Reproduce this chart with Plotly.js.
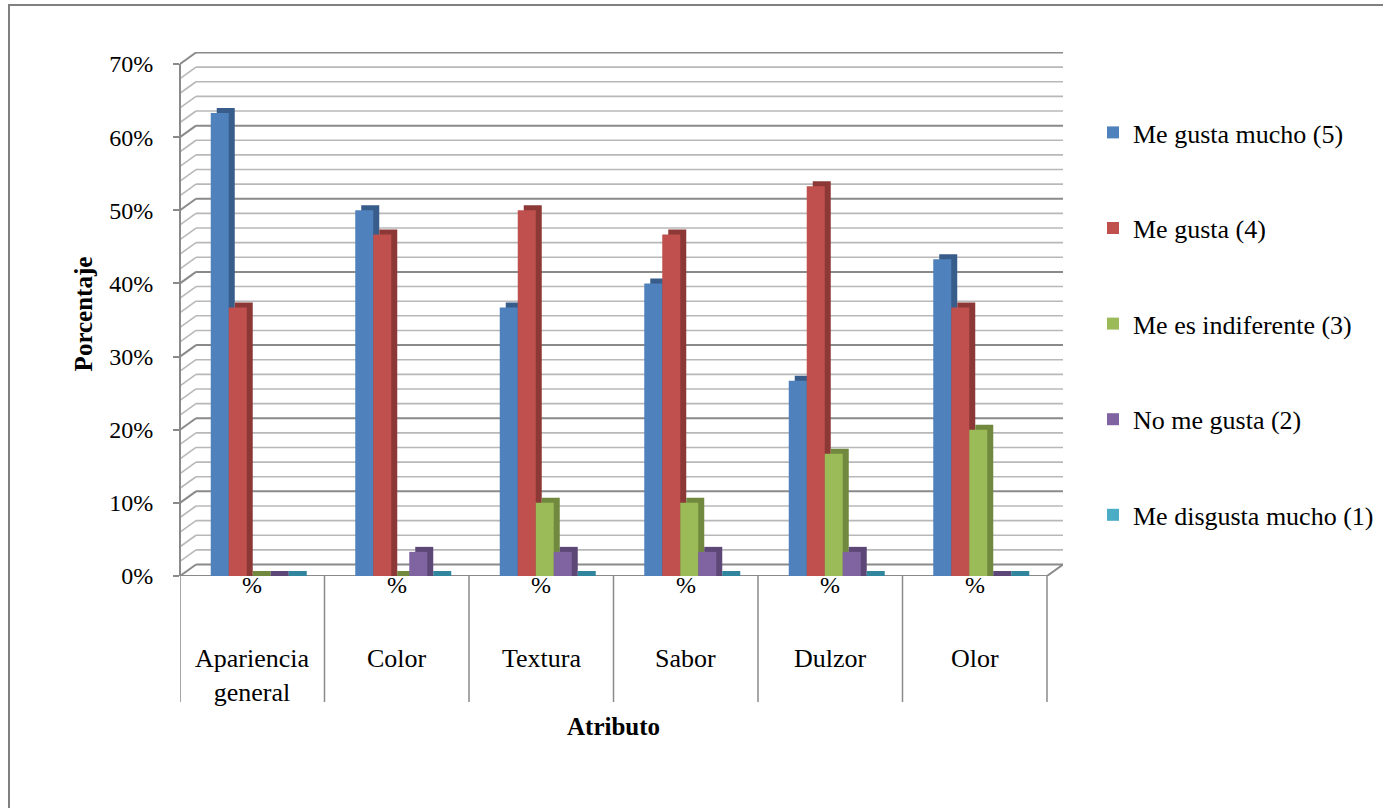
<!DOCTYPE html>
<html>
<head>
<meta charset="utf-8">
<script src="https://cdn.plot.ly/plotly-3.0.1.min.js"></script>
<style>
  html, body { margin: 0; padding: 0; background: #fff; }
  #wrap { position: relative; width: 1383px; height: 808px; overflow: hidden; }
  #chart { position: absolute; left: 0; top: 0; width: 1383px; height: 808px; }
  #frame { position: absolute; left: 8px; top: 4px; width: 1400px; height: 820px;
           border-left: 2px solid #808080; border-top: 2px solid #808080; pointer-events: none; }
</style>
</head>
<body>
<div id="wrap">
  <div id="chart"></div>
  <div id="frame"></div>
</div>
<script>
// ---- data ----
const categories = ["Apariencia general", "Color", "Textura", "Sabor", "Dulzor", "Olor"];
const categoryLabels = ["Apariencia<br>general", "Color", "Textura", "Sabor", "Dulzor", "Olor"];
const subLabel = "%";
const seriesNames = ["Me gusta mucho (5)", "Me gusta (4)", "Me es indiferente (3)", "No me gusta (2)", "Me disgusta mucho (1)"];
const meGustaMucho   = [63.3, 50.0, 36.7, 40.0, 26.7, 43.3];
const meGusta        = [36.7, 46.7, 50.0, 46.7, 53.3, 36.7];
const meEsIndif      = [0, 0, 10.0, 10.0, 16.7, 20.0];
const noMeGusta      = [0, 3.3, 3.3, 3.3, 3.3, 0];
const meDisgustaMucho= [0, 0, 0, 0, 0, 0];
const yTicks = [0, 10, 20, 30, 40, 50, 60, 70];
const yTickLabels = ["0%", "10%", "20%", "30%", "40%", "50%", "60%", "70%"];
const yTitle = "Porcentaje";
const xTitle = "Atributo";

// ---- style ----
const seriesValues = [meGustaMucho, meGusta, meEsIndif, noMeGusta, meDisgustaMucho];
const faceColors = ["#4F81BD", "#C0504D", "#9BBB59", "#8064A2", "#4BACC6"];
const sideColors = ["#385D8A", "#8C3836", "#71893F", "#5C4776", "#31859C"];
const FONT = "'Liberation Serif', 'DejaVu Serif', serif";

const W = 1383, H = 808;
const mL = 180, mR = 320, mT = 52, mB = 232;
const plotW = W - mL - mR, plotH = H - mT - mB;
const depthPx = 16, depthPy = 11.5;           // back wall offset
const nCat = categories.length;
const catPx = (plotW - depthPx) / nCat;
const xRange = [-0.5, nCat - 0.5 + depthPx / catPx];
const yTop = 70 * plotH / 512;                 // 0..70 spans 512 px
const pxPerUnit = plotH / yTop;

const barW = 18 / catPx;
const groupStart = -41.5 / catPx;
const barDx = 6 / catPx, barDy = 5 / pxPerUnit;

const traces = [];
seriesValues.forEach((vals, i) => {
  traces.push({
    type: "bar", x: categories, y: vals.map(v => v + barDy), base: 0,
    offset: groupStart + i * barW + barDx, width: barW,
    marker: { color: sideColors[i], line: { width: 0 } },
    showlegend: false, hoverinfo: "skip", legendgroup: "g" + i
  });
  traces.push({
    type: "bar", x: categories, y: vals, name: seriesNames[i],
    offset: groupStart + i * barW, width: barW,
    marker: { color: faceColors[i], line: { width: 0 } },
    legendgroup: "g" + i
  });
});

const shapes = [];
const wallX = depthPx / plotW;
for (let k = 0; k <= 35; k++) {
  const v = k * 2;
  const major = v % 10 === 0;
  const col = major ? "#8a8a8a" : "#b8b8b8";
  const lw = major ? 2 : 1.6;
  shapes.push({ type: "line", layer: "below", xref: "paper", x0: wallX, x1: 1,
    yref: "y", ysizemode: "pixel", yanchor: v, y0: depthPy, y1: depthPy,
    line: { color: col, width: lw } });
  shapes.push({ type: "line", layer: "below", xref: "paper", x0: 0, x1: wallX,
    yref: "y", ysizemode: "pixel", yanchor: v, y0: 0, y1: depthPy,
    line: { color: col, width: lw } });
}
// front floor edge
shapes.push({ type: "line", layer: "below", xref: "x", x0: -0.5, x1: nCat - 0.5,
  yref: "y", y0: 0, y1: 0, line: { color: "#8a8a8a", width: 2 } });
shapes.push({ type: "line", layer: "below", xref: "x", xsizemode: "pixel", xanchor: nCat - 0.5, x0: 0, x1: depthPx,
  yref: "y", ysizemode: "pixel", yanchor: 0, y0: 0, y1: depthPy, line: { color: "#8a8a8a", width: 2 } });
// vertical axis line
shapes.push({ type: "line", layer: "below", xref: "paper", x0: 0, x1: 0,
  yref: "y", y0: 0, y1: 70, line: { color: "#8a8a8a", width: 2 } });
// category dividers
for (let i = 0; i <= nCat; i++) {
  shapes.push({ type: "line", xref: "x", x0: i - 0.5, x1: i - 0.5,
    yref: "paper", y0: 0, y1: -(702 - (H - mB)) / plotH, line: { color: "#8a8a8a", width: 1.5 } });
}

const annotations = [];
categories.forEach((c, i) => {
  annotations.push({ xref: "x", x: c, yref: "paper", y: -(585 - (H - mB)) / plotH, yanchor: "middle",
    text: subLabel, showarrow: false, font: { family: FONT, size: 24, color: "#000" } });
  annotations.push({ xref: "x", x: c, yref: "paper", y: -(642 - (H - mB)) / plotH, yanchor: "top",
    text: categoryLabels[i], showarrow: false, font: { family: FONT, size: 26, color: "#000" } });
});
annotations.push({ xref: "paper", x: (613.5 - mL) / plotW, yref: "paper", y: -(726 - (H - mB)) / plotH,
  yanchor: "middle", text: xTitle, showarrow: false,
  font: { family: FONT, size: 25, color: "#000", weight: "bold" } });

const layout = {
  width: W, height: H,
  margin: { l: mL, r: mR, t: mT, b: mB, pad: 0, autoexpand: false },
  paper_bgcolor: "rgba(0,0,0,0)", plot_bgcolor: "rgba(0,0,0,0)",
  barmode: "overlay",
  showlegend: true,
  font: { family: FONT, color: "#000" },
  xaxis: { type: "category", range: xRange, showticklabels: false, showgrid: false,
    zeroline: false, showline: false, ticks: "", fixedrange: true },
  yaxis: { range: [0, yTop], tickvals: yTicks, ticktext: yTickLabels, ticks: "outside",
    ticklen: 6, tickwidth: 2, tickcolor: "#8a8a8a", showgrid: false, zeroline: false, showline: false,
    ticklabelstandoff: 15,
    tickfont: { family: FONT, size: 24, color: "#000" },
    title: { text: yTitle, standoff: 9, font: { family: FONT, size: 25, color: "#000", weight: "bold" } } },
  legend: { x: (1093 - mL) / plotW, xanchor: "left", y: ((H - mB) - 109) / plotH, yanchor: "top",
    traceorder: "grouped", tracegroupgap: 58.8, bgcolor: "rgba(0,0,0,0)",
    font: { family: FONT, size: 26, color: "#000" } },
  shapes: shapes,
  annotations: annotations,
  hovermode: false
};

Plotly.newPlot("chart", traces, layout, { displayModeBar: false, staticPlot: true });
</script>
</body>
</html>
